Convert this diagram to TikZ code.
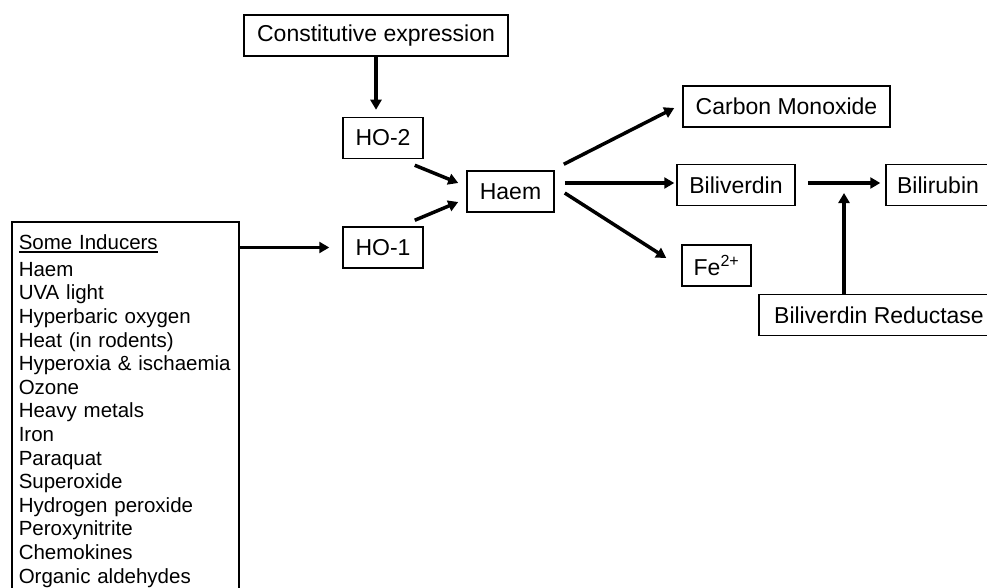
\documentclass[tikz,border=0pt]{standalone}
\usepackage{fontspec}
\setmainfont{Liberation Sans}
\usetikzlibrary{arrows.meta, positioning, calc}
\newcommand{\ulhead}[1]{\setbox0\hbox{#1}\rlap{\rule[-3pt]{\wd0}{1.5pt}}\box0}

\begin{document}
\begin{tikzpicture}[x=1pt, y=-1pt, >={Triangle[length=10pt, width=11pt]},
  box/.style={draw, line width=1.5pt, minimum height=41pt, inner sep=0pt, font=\fontsize{23}{27}\selectfont},
  listbox/.style={draw, line width=1.5pt, anchor=north west, align=left, text width=213pt,
    inner xsep=7pt, inner ysep=13pt, text depth=340pt, font=\fontsize{20.5}{23.6}\selectfont},
  link/.style={->, line width=3.5pt}]
\useasboundingbox (0,0) rectangle (987,588);
\clip (0,0) rectangle (987,588);
% enzymes and substrate
\node[box, minimum width=264pt] (const) at (376,35.5) {Constitutive expression};
\node[box, minimum width=80pt] (ho2) at (383,138) {HO-2};
\node[box, minimum width=80pt] (ho1) at (383,247.5) {HO-1};
\node[box, minimum width=87pt] (haem) at (510.5,191.5) {Haem};
% products
\node[box, minimum width=207pt] (co) at (786.5,106.5) {Carbon Monoxide};
\node[box, minimum width=118pt] (bv) at (736,185) {Biliverdin};
\node[box, minimum width=104pt] (br) at (938,185) {Bilirubin};
\node[box, minimum width=69pt] (fe) at (716.5,265.5) {Fe\textsuperscript{2+}};
\node[box, minimum width=240pt] (bvr) at (879,315) {Biliverdin Reductase};
% inducers list
\node[listbox] (inducers) at (11,221) {\ulhead{Some Inducers}\\[3pt]
  Haem\\ UVA light\\ Hyperbaric oxygen\\ Heat (in rodents)\\ Hyperoxia \& ischaemia\\
  Ozone\\ Heavy metals\\ Iron\\ Paraquat\\ Superoxide\\ Hydrogen peroxide\\
  Peroxynitrite\\ Chemokines\\ Organic aldehydes};
% arrows
\draw[link, shorten >=7pt] (const.south) -- (const.south |- ho2.north);
\draw[link, shorten >=13pt] (inducers.east |- ho1) -- (ho1);
\draw[link] ($(ho2.south east)+(-9,6)$) -- ($(haem.west)+(-8,-8.5)$);
\draw[link] ($(ho1.north east)+(-9,-6)$) -- ($(haem.west)+(-8,10.5)$);
\draw[link] ($(haem.north east)+(9,-6)$) -- ($(co.west)+(-8,1.5)$);
\draw[link] ($(haem.east)+(10,-8.5)$) -- ($(bv.west)+(-2,-2)$);
\draw[link] ($(haem.east)+(10,1.5)$) -- ($(fe.west)+(-15,-7.5)$);
\draw[link] ($(bv.east)+(12,-2)$) -- ($(br.west)+(-5,-2)$);
\coordinate (redux) at (844,193);
\draw[link] (bvr.north -| redux) -- (redux);
\end{tikzpicture}
\end{document}
